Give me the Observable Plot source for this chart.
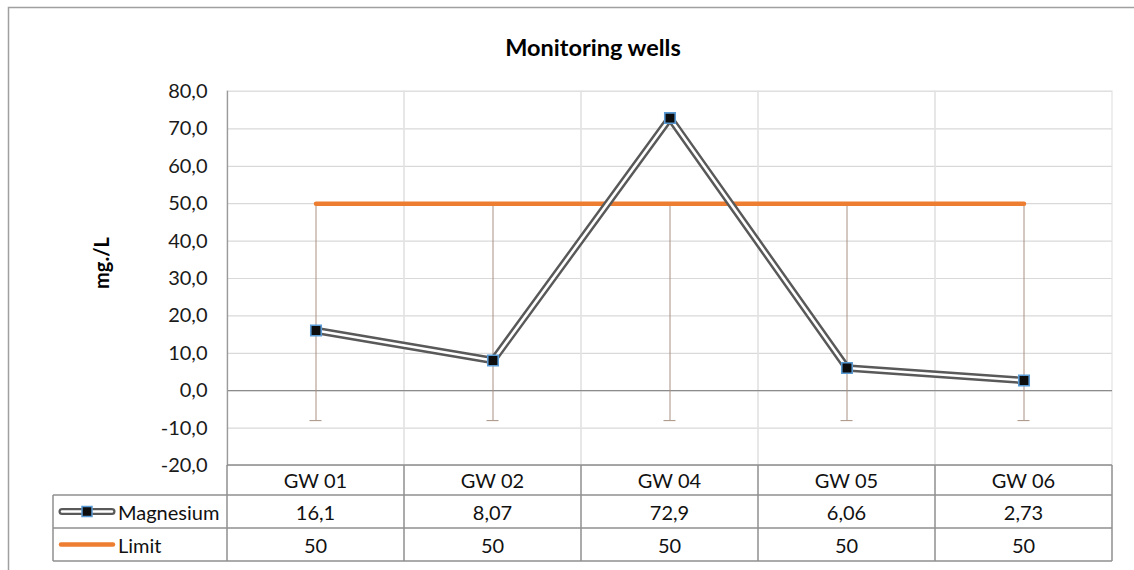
<!DOCTYPE html>
<html>
<head>
<meta charset="utf-8">
<script src="https://cdn.jsdelivr.net/npm/d3@7"></script>
<script src="https://cdn.jsdelivr.net/npm/@observablehq/plot@0.6"></script>
<style>
  html, body { margin: 0; padding: 0; background: #fff; }
  svg { display: block; }
</style>
</head>
<body>
<div id="chart"></div>
<script>
const title = "Monitoring wells";
const yLabel = "mg./L";
const categories = ["GW 01", "GW 02", "GW 04", "GW 05", "GW 06"];
const magnesium = [16.1, 8.07, 72.9, 6.06, 2.73];
const limit = [50, 50, 50, 50, 50];
const errorLow = [-8, -8, -8, -8, -8];
const yTicks = [-20, -10, 0, 10, 20, 30, 40, 50, 60, 70, 80];
const seriesNames = ["Magnesium", "Limit"];

const FONT = "Lato, 'Noto Sans', sans-serif";
const fmtTick = d => d.toFixed(1).replace(".", ",");
const fmtVal = d => String(d).replace(".", ",");

const mg = categories.map((c, i) => ({cat: c, v: magnesium[i]}));
const lim = categories.map((c, i) => ({cat: c, v: limit[i], lo: errorLow[i]}));

const plot = Plot.plot({
  width: 1134,
  height: 570,
  marginLeft: 227,
  marginRight: 22,
  marginTop: 91,
  marginBottom: 105,
  style: {fontFamily: FONT, fontSize: "20px", color: "#1a1a1a", background: "#fff"},
  x: {type: "band", domain: categories, padding: 0, axis: null},
  y: {domain: [-20, 80], ticks: yTicks, tickFormat: fmtTick, tickSize: 0, tickPadding: 20, label: null},
  marks: [
    Plot.gridY(yTicks, {stroke: "#d9d9d9", strokeOpacity: 1, strokeWidth: 1.2}),
    Plot.cell(categories, {x: d => d, fill: "none", stroke: "#e3e3e3", strokeWidth: 1.2}),
    Plot.ruleY([0], {stroke: "#8c8c8c", strokeWidth: 1.3}),
    Plot.frame({anchor: "left", stroke: "#9a9a9a", strokeWidth: 1.3}),
    Plot.ruleX(lim, {x: "cat", y1: "lo", y2: "v", stroke: "#a89083", strokeWidth: 1}),
    Plot.tickY(lim, {x: "cat", y: "lo", stroke: "#a89083", strokeWidth: 1, insetLeft: 82.5, insetRight: 82.5}),
    Plot.line(lim, {x: "cat", y: "v", stroke: "#ED7D31", strokeWidth: 4.5}),
    Plot.line(mg, {x: "cat", y: "v", stroke: "#595959", strokeWidth: 7.5, strokeLinejoin: "miter"}),
    Plot.line(mg, {x: "cat", y: "v", stroke: "#ffffff", strokeWidth: 2.6, strokeLinejoin: "miter"}),
    Plot.dot(mg, {x: "cat", y: "v", symbol: "square", r: 5.9, fill: "#0d0d0d", stroke: "#5b9bd5", strokeWidth: 1.6})
  ]
});

document.getElementById("chart").appendChild(plot);

// Decorations positioned from the plot's own scales
const svg = d3.select(plot);
const xs = plot.scale("x");
const ys = plot.scale("y");
const bw = xs.bandwidth;
const xLeft = xs.apply(categories[0]);
const xRight = xs.apply(categories[categories.length - 1]) + bw;
const tableTop = ys.apply(-20);
const rows = [tableTop, tableTop + 30, tableTop + 63, tableTop + 96];
const legendLeft = 53;
const gridColor = "#8f8f8f";

// outer chart border
svg.insert("rect", ":first-child")
  .attr("x", 8.5).attr("y", 7.5).attr("width", 1140).attr("height", 620)
  .attr("fill", "#fff").attr("stroke", "#a0a0a0").attr("stroke-width", 1.5);

// title
svg.append("text").attr("x", 593).attr("y", 50)
  .attr("text-anchor", "middle").attr("dominant-baseline", "middle")
  .attr("font-family", FONT).attr("font-weight", "bold").attr("font-size", 23.5)
  .attr("fill", "#000").text(title);

// y label
svg.append("text").attr("transform", "translate(104,263) rotate(-90)")
  .attr("text-anchor", "middle").attr("dominant-baseline", "middle")
  .attr("font-family", FONT).attr("font-weight", "bold").attr("font-size", 20)
  .attr("fill", "#000").text(yLabel);

// data table
const tg = svg.append("g").attr("font-family", FONT).attr("font-size", 20).attr("fill", "#111");
tg.append("line").attr("x1", xLeft).attr("x2", xRight).attr("y1", rows[0]).attr("y2", rows[0])
  .attr("stroke", gridColor).attr("stroke-width", 1.5);
for (let i = 1; i < rows.length; i++) {
  tg.append("line").attr("x1", legendLeft).attr("x2", xRight).attr("y1", rows[i]).attr("y2", rows[i])
    .attr("stroke", gridColor).attr("stroke-width", 1.5);
}
categories.forEach(c => {
  const x0 = xs.apply(c);
  tg.append("line").attr("x1", x0).attr("x2", x0).attr("y1", rows[0]).attr("y2", rows[3])
    .attr("stroke", gridColor).attr("stroke-width", 1.5);
});
tg.append("line").attr("x1", xRight).attr("x2", xRight).attr("y1", rows[0]).attr("y2", rows[3])
  .attr("stroke", gridColor).attr("stroke-width", 1.5);
tg.append("line").attr("x1", legendLeft).attr("x2", legendLeft).attr("y1", rows[1]).attr("y2", rows[3])
  .attr("stroke", gridColor).attr("stroke-width", 1.5);

const rowData = [categories, magnesium.map(fmtVal), limit.map(fmtVal)];
rowData.forEach((arr, r) => {
  const cy = (rows[r] + rows[r + 1]) / 2;
  arr.forEach((t, i) => {
    tg.append("text").attr("x", xs.apply(categories[i]) + bw / 2).attr("y", cy)
      .attr("text-anchor", "middle").attr("dominant-baseline", "central").text(t);
  });
});

const ky1 = (rows[1] + rows[2]) / 2;
const ky2 = (rows[2] + rows[3]) / 2;
tg.append("line").attr("x1", 62).attr("x2", 112).attr("y1", ky1).attr("y2", ky1)
  .attr("stroke", "#595959").attr("stroke-width", 7).attr("stroke-linecap", "round");
tg.append("line").attr("x1", 62).attr("x2", 112).attr("y1", ky1).attr("y2", ky1)
  .attr("stroke", "#fff").attr("stroke-width", 2.4).attr("stroke-linecap", "round");
tg.append("rect").attr("x", 82).attr("y", ky1 - 5).attr("width", 10).attr("height", 10)
  .attr("fill", "#0d0d0d").attr("stroke", "#5b9bd5").attr("stroke-width", 1.5);
tg.append("line").attr("x1", 61).attr("x2", 113).attr("y1", ky2).attr("y2", ky2)
  .attr("stroke", "#ED7D31").attr("stroke-width", 4.5).attr("stroke-linecap", "round");
tg.append("text").attr("x", 118).attr("y", ky1).attr("text-anchor", "start")
  .attr("dominant-baseline", "central").text(seriesNames[0]);
tg.append("text").attr("x", 118).attr("y", ky2).attr("text-anchor", "start")
  .attr("dominant-baseline", "central").text(seriesNames[1]);
</script>
</body>
</html>
